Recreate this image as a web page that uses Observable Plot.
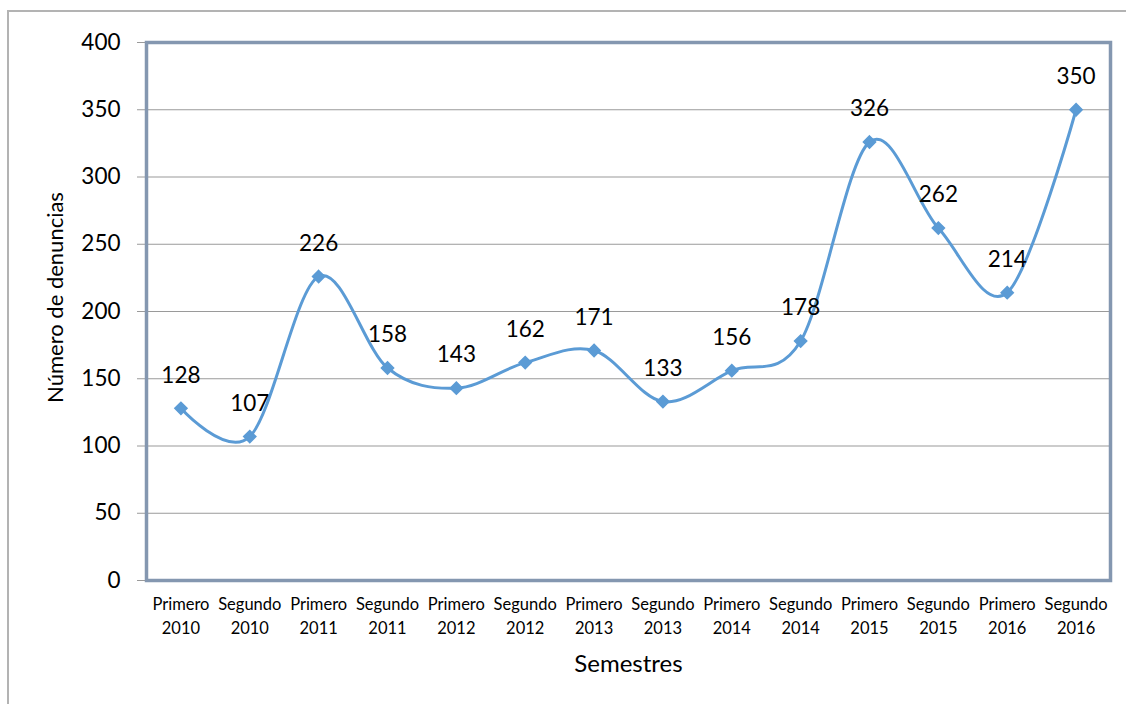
<!DOCTYPE html>
<html>
<head>
<meta charset="utf-8">
<script src="https://cdn.jsdelivr.net/npm/d3@7"></script>
<script src="https://cdn.jsdelivr.net/npm/@observablehq/plot@0.6"></script>
<style>
  html, body { margin: 0; padding: 0; background: #fff; overflow: hidden; }
  #wrap { position: relative; width: 1126px; height: 704px; }
  #outer { position: absolute; left: 7px; top: 10px; width: 1200px; height: 800px;
           border-left: 2px solid #b3b3b3; border-top: 2px solid #b3b3b3; box-sizing: border-box; }
  #chart { position: absolute; left: 0; top: 0; }
</style>
</head>
<body>
<div id="wrap"><div id="outer"></div><div id="chart"></div></div>
<script>
const semestres = ["Primero", "Segundo", "Primero", "Segundo", "Primero", "Segundo", "Primero",
                   "Segundo", "Primero", "Segundo", "Primero", "Segundo", "Primero", "Segundo"];
const anios = ["2010", "2010", "2011", "2011", "2012", "2012", "2013",
               "2013", "2014", "2014", "2015", "2015", "2016", "2016"];
const denuncias = [128, 107, 226, 158, 143, 162, 171, 133, 156, 178, 326, 262, 214, 350];
const yTicks = [0, 50, 100, 150, 200, 250, 300, 350, 400];
const yTitle = "Número de denuncias";
const xTitle = "Semestres";

const categorias = semestres.map((s, i) => s + "\n" + anios[i]);
const data = categorias.map((c, i) => ({cat: c, v: denuncias[i]}));

const font = "Lato, 'Open Sans', sans-serif";
const blue = "#5B9BD5";

const chart = Plot.plot({
  width: 1126,
  height: 704,
  marginTop: 42,
  marginBottom: 124,
  marginLeft: 146,
  marginRight: 16,
  style: {fontFamily: font, color: "#000", background: "transparent"},
  x: {type: "point", domain: categorias, padding: 0.5, round: false, label: null},
  y: {domain: [0, 400], label: null},
  marks: [
    Plot.ruleY(yTicks.filter(t => t > 0 && t < 400), {stroke: "#9a9a9a", strokeWidth: 1.2}),
    Plot.axisY({ticks: yTicks, tickSize: 9, tickPadding: 17, fontSize: 22.5, stroke: "#9a9a9a", label: null}),
    Plot.axisX({tickSize: 0, tickPadding: 13.5, fontSize: 16.5, lineHeight: 1.4, label: null}),
    Plot.text([yTitle], {frameAnchor: "left", textAnchor: "middle", text: d => d, rotate: -90,
                         dx: -91, dy: -14, fontSize: 22, fill: "#000"}),
    Plot.text([xTitle], {frameAnchor: "bottom", text: d => d, dy: 91, fontSize: 24, fill: "#000"}),
    Plot.frame({stroke: "#8497B0", strokeWidth: 3.5}),
    Plot.line(data, {x: "cat", y: "v", stroke: blue, strokeWidth: 3, curve: "cardinal"}),
    Plot.dot(data, {x: "cat", y: "v", symbol: "diamond2", r: 5.5, fill: blue, stroke: blue}),
    Plot.text(data, {x: "cat", y: "v", text: d => String(d.v), dy: -33, fontSize: 22.5, fill: "#000"})
  ]
});
document.getElementById("chart").appendChild(chart);
</script>
</body>
</html>
